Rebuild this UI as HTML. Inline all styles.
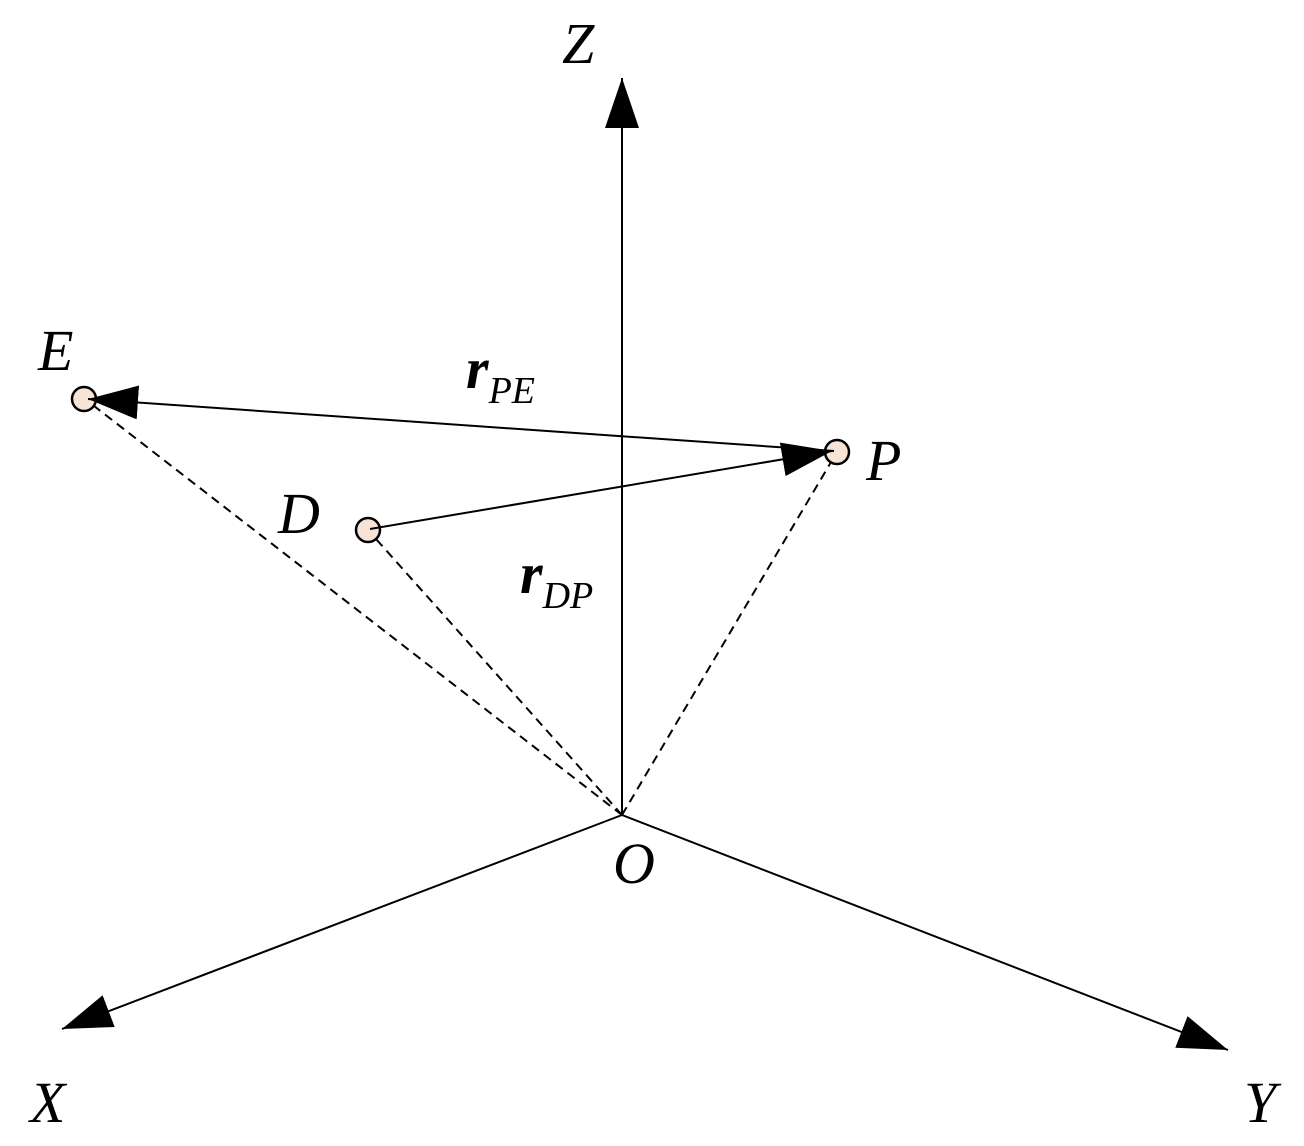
<!DOCTYPE html>
<html><head><meta charset="utf-8"><style>html,body{margin:0;padding:0;background:#fff}svg{display:block}
.t{font-family:"Liberation Serif","Times New Roman",serif;font-style:italic;font-size:58px;fill:#000}</style></head>
<body>
<svg width="1304" height="1146" viewBox="0 0 1304 1146" xmlns="http://www.w3.org/2000/svg">
<defs>
<marker id="ah" markerUnits="userSpaceOnUse" markerWidth="52" markerHeight="36" refX="50" refY="17" orient="auto">
<path d="M0,0 L50,17 L0,34 Z" fill="#000"/>
</marker>
</defs>
<g stroke="#000" stroke-width="2" fill="none">
<line x1="622" y1="815" x2="622" y2="78" marker-end="url(#ah)"/>
<line x1="622" y1="815" x2="62" y2="1029" marker-end="url(#ah)"/>
<line x1="622" y1="815" x2="1228" y2="1050" marker-end="url(#ah)"/>
<g stroke-dasharray="9,6">
<line x1="622" y1="815" x2="85" y2="399"/>
<line x1="622" y1="815" x2="368" y2="530"/>
<line x1="622" y1="815" x2="837" y2="452"/>
</g>
</g>
<g stroke="#000" stroke-width="2.5" fill="#f8e4d6">
<circle cx="84" cy="399" r="12"/>
<circle cx="837" cy="452" r="12"/>
<circle cx="368" cy="530" r="12"/>
</g>
<g stroke="#000" stroke-width="2" fill="none">
<line x1="834" y1="451" x2="88" y2="399" marker-end="url(#ah)"/>
<line x1="370" y1="529" x2="832" y2="451" marker-end="url(#ah)"/>
</g>
<g class="t">
<text x="562" y="63">Z</text>
<text x="38" y="370">E</text>
<text x="866" y="480">P</text>
<text x="278" y="533">D</text>
<text x="613" y="883">O</text>
<text x="30" y="1122">X</text>
<text x="1244" y="1122">Y</text>
<text x="466" y="388" font-weight="bold">r<tspan font-weight="normal" font-size="38" dy="15">PE</tspan></text>
<text x="520" y="593" font-weight="bold">r<tspan font-weight="normal" font-size="38" dy="15">DP</tspan></text>
</g>
</svg>
</body></html>
